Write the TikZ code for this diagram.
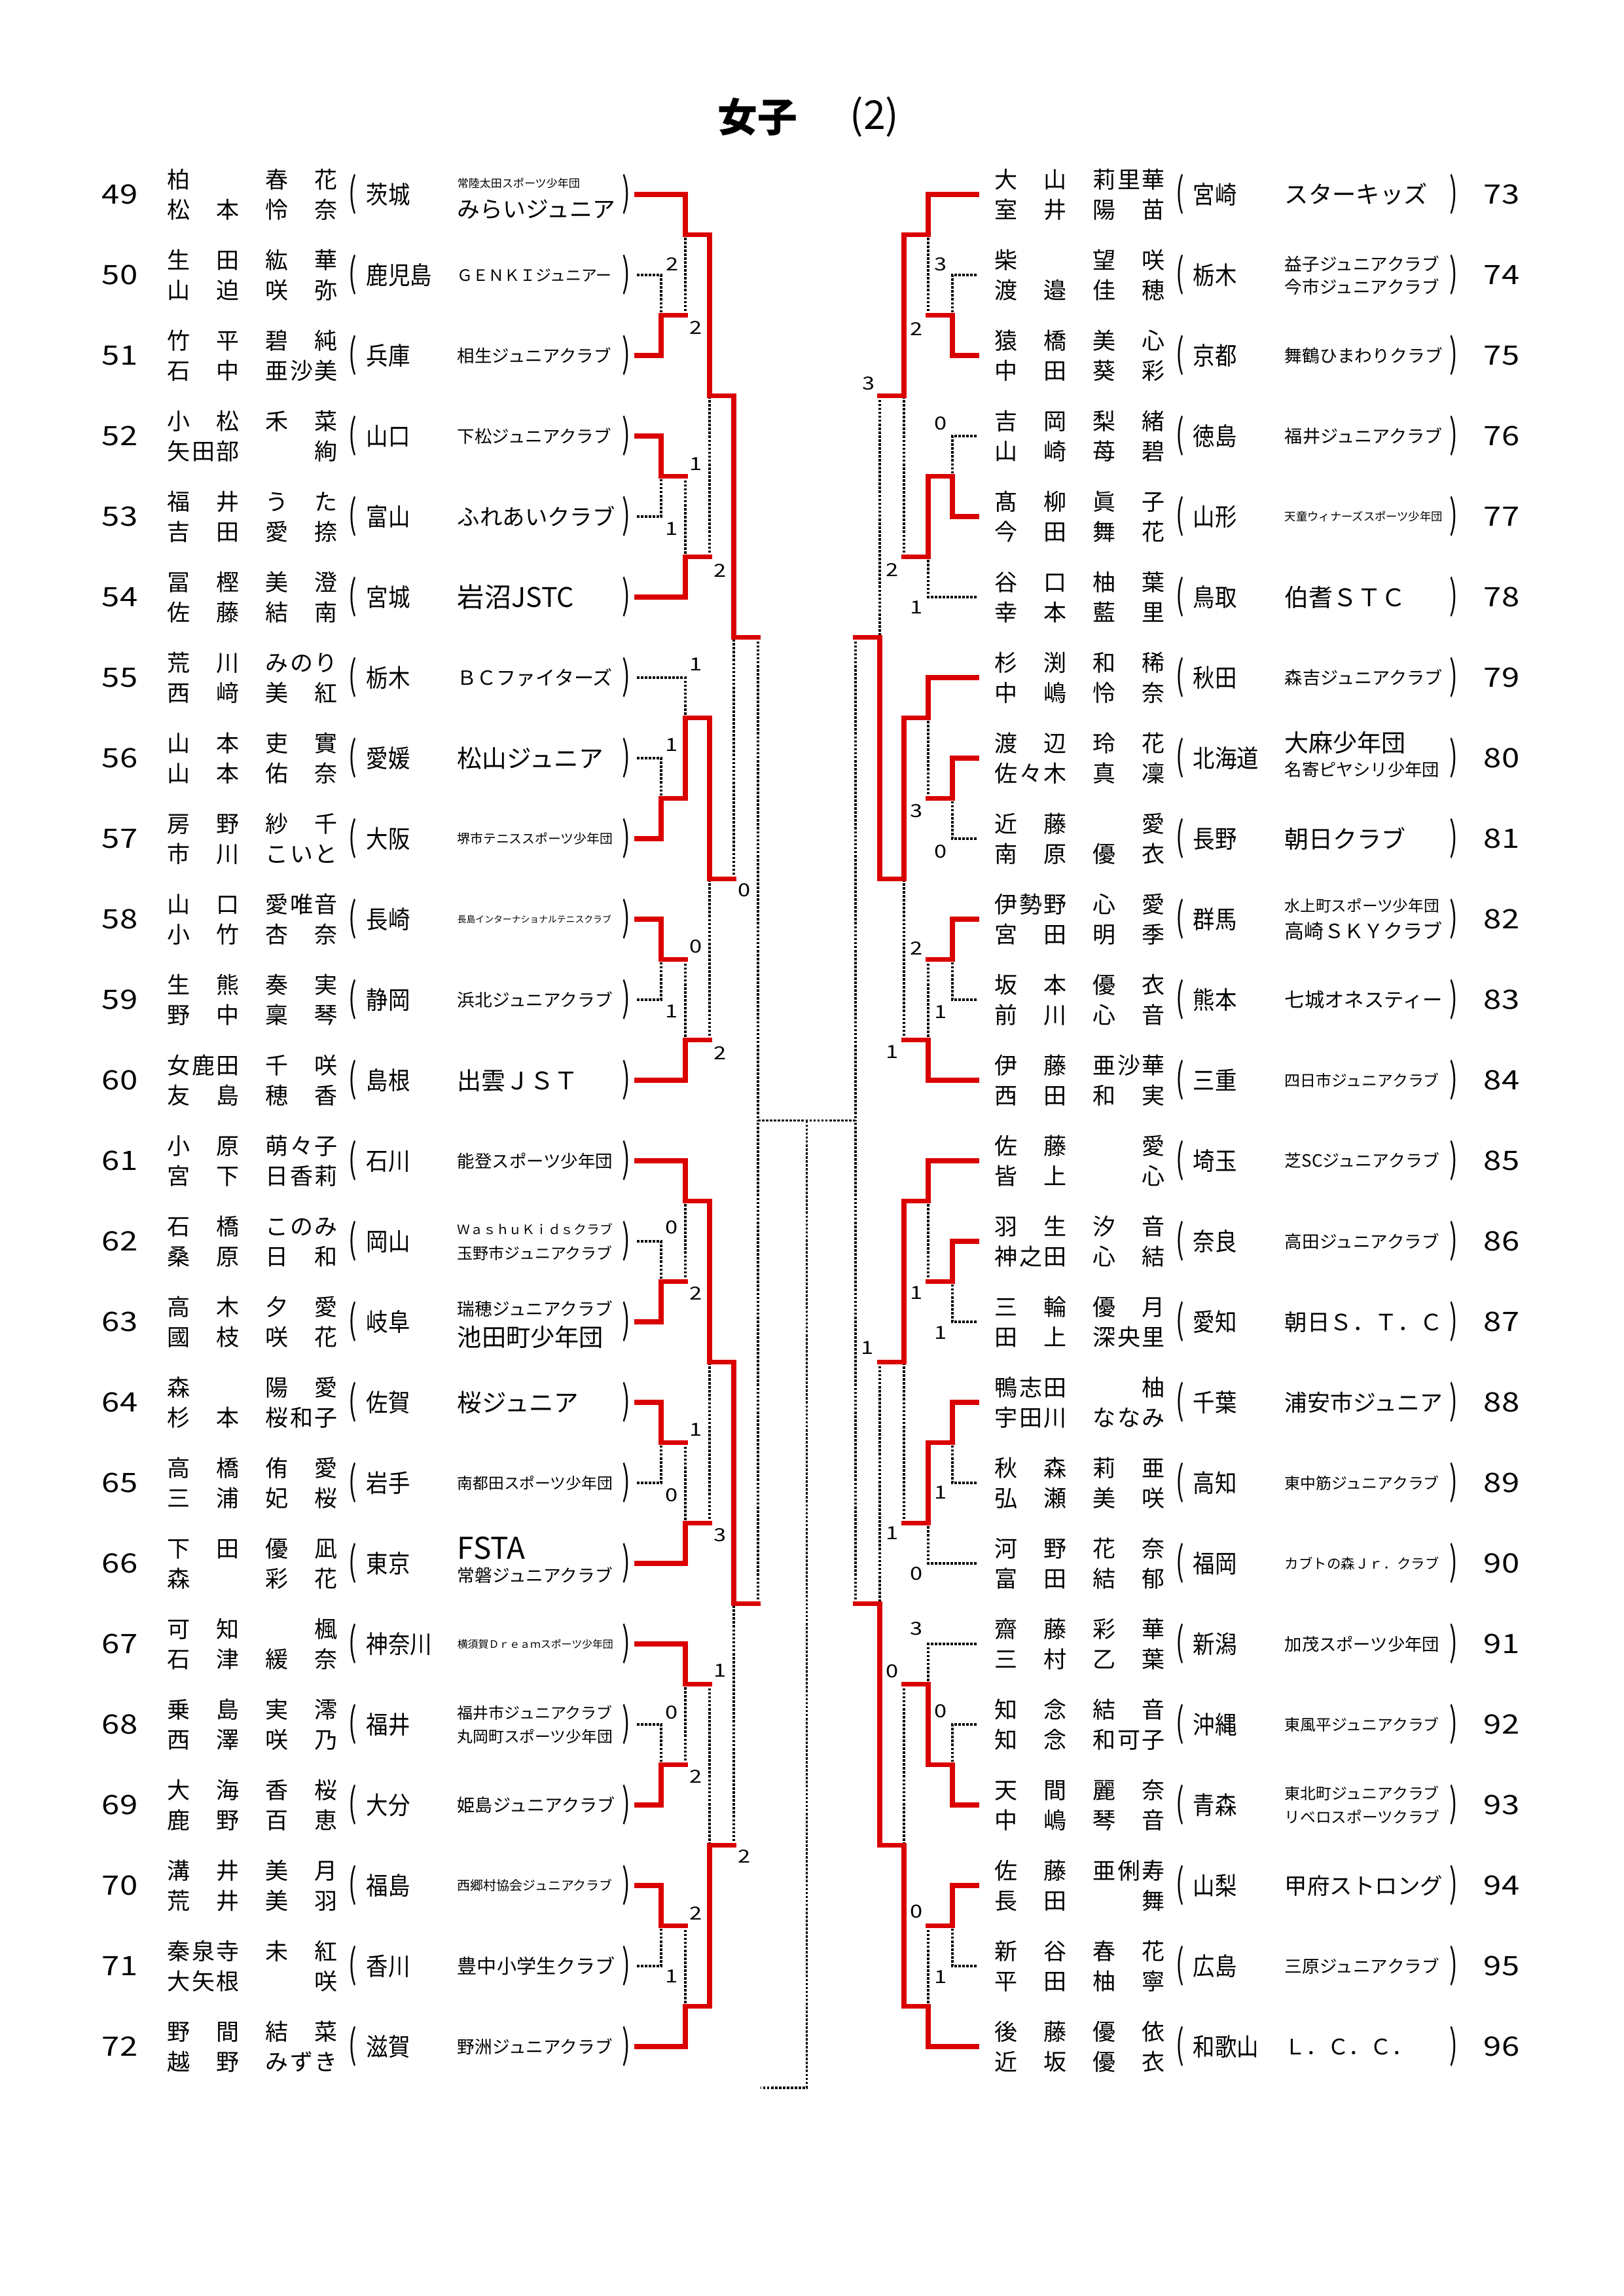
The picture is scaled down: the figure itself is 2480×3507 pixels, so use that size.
\documentclass[tikz,border=0pt]{standalone}
\usepackage{fontspec}
\usepackage{graphicx}
\setmainfont{Noto Sans CJK JP}
\definecolor{bred}{RGB}{218,0,0}
\newlength\pxu \setlength\pxu{0.24pt}
\newcommand\jstrut{\rule[-0.12em]{0pt}{1em}}
\def\spreadA#1{#1\spreadB}
\def\spreadB#1{\ifx#1\relax\else\hfill#1\expandafter\spreadB\fi}
\newcommand\spreadchars[1]{\spreadA#1\relax}
\def\setleft{\def\numx{183}\def\famx{255}\def\givx{405}\def\opx{539}\def\prefx{559}\def\clubx{698}\def\cpx{957}}
\def\setright{\def\numx{2294}\def\famx{1519}\def\givx{1669}\def\opx{1803}\def\prefx{1822}\def\clubx{1962}\def\cpx{2221}}
\newcommand\prow[8]{%
  \def\cid{#1}\def\cy{#2}%
  \node[numn] (n#1) at (\numx,#2) {\scalebox{1.2}[1]{#1}};
  \node[namen] (fa#1) at (\famx,#2-23) {\makebox[110\pxu][s]{\jstrut\spreadchars{#3}}};
  \node[namen] (ga#1) at (\givx,#2-23) {\makebox[110\pxu][s]{\jstrut\spreadchars{#4}}};
  \node[namen] (fb#1) at (\famx,#2+23) {\makebox[110\pxu][s]{\jstrut\spreadchars{#5}}};
  \node[namen] (gb#1) at (\givx,#2+23) {\makebox[110\pxu][s]{\jstrut\spreadchars{#6}}};
  \node[parn] (po#1) at (\opx,#2) {\scalebox{0.9}[1.45]{(}};
  \node[prefn] (p#1) at (\prefx,#2) {\scalebox{0.88}[1]{\jstrut #7}};
  #8
  \node[parn] (pc#1) at (\cpx,#2) {\scalebox{0.9}[1.45]{)}};
}
\newcommand\cone[2]{\node[clubn] (c\cid) at (\clubx,\cy) {\resizebox{#1\pxu}{!}{\jstrut #2}};}
\newcommand\ctwo[6]{\node[clubn] (ct\cid) at (\clubx,\cy-#2) {\resizebox{#1\pxu}{!}{\jstrut #3}};
  \node[clubn] (cb\cid) at (\clubx,\cy+#5) {\resizebox{#4\pxu}{!}{\jstrut #6}};}
\newcommand\lossR[2]{\draw[lose] (#1) -| (#2);}
\newcommand\lossJ[2]{\draw[lose] (#1 -| #2) -- (#2);}
\newcommand\winL[2]{\draw[win] (#1) -| (#2);}
\newcommand\winH[2]{\draw[win] (#1) -- (#1 -| #2);}
\newcommand\scl[4]{\node[scn] (#1) at (#2,#3) {\scalebox{1.25}[1]{#4}};}
\tikzset{
 win/.style={draw=bred, line width=1.7pt, line cap=rect, line join=miter},
 lose/.style={draw=black, line width=0.82pt, dash pattern=on 0.9pt off 0.55pt},
 numn/.style={inner sep=0, font=\fontsize{9.8}{11}\selectfont},
 namen/.style={anchor=west, inner sep=0, font=\fontsize{8.4}{10}\selectfont},
 prefn/.style={anchor=west, inner sep=0, font=\fontsize{9.1}{11}\selectfont},
 parn/.style={inner sep=0, font=\fontsize{10}{12}\selectfont},
 clubn/.style={anchor=west, inner sep=0, font=\fontsize{10}{12}\selectfont},
 scn/.style={inner sep=0, font=\fontsize{6.6}{8}\selectfont},
 titn/.style={inner sep=0, font=\fontsize{14.6}{17}\selectfont},
}
\begin{document}
\begin{tikzpicture}[x=0.24pt,y=-0.24pt]
\useasboundingbox (0,0) rectangle (2480,3507);
% title
\node[titn] (t1) at (1157,179) {\bfseries 女子};
\node[titn] (t2) at (1336,179) {(2)};
% left rows
\setleft
\prow{49}{297}{柏}{春花}{松本}{怜奈}{茨城}{\ctwo{187}{17}{常陸太田スポーツ少年団}{241}{22}{みらいジュニア}}
\prow{50}{420}{生田}{紘華}{山迫}{咲弥}{鹿児島}{\cone{236}{ＧＥＮＫＩジュニアー}}
\prow{51}{543}{竹平}{碧純}{石中}{亜沙美}{兵庫}{\cone{235}{相生ジュニアクラブ}}
\prow{52}{666}{小松}{禾菜}{矢田部}{\hfill 絢}{山口}{\cone{235}{下松ジュニアクラブ}}
\prow{53}{789}{福井}{うた}{吉田}{愛捺}{富山}{\cone{241}{ふれあいクラブ}}
\prow{54}{912}{冨樫}{美澄}{佐藤}{結南}{宮城}{\cone{178}{岩沼JSTC}}
\prow{55}{1035}{荒川}{みのり}{西﨑}{美紅}{栃木}{\cone{237}{ＢＣファイターズ}}
\prow{56}{1158}{山本}{吏實}{山本}{佑奈}{愛媛}{\cone{223}{松山ジュニア}}
\prow{57}{1281}{房野}{紗千}{市川}{こいと}{大阪}{\cone{237}{堺市テニススポーツ少年団}}
\prow{58}{1404}{山口}{愛唯音}{小竹}{杏奈}{長崎}{\cone{235}{長島インターナショナルテニスクラブ}}
\prow{59}{1527}{生熊}{奏実}{野中}{稟琴}{静岡}{\cone{237}{浜北ジュニアクラブ}}
\prow{60}{1650}{女鹿田}{千咲}{友島}{穂香}{島根}{\cone{185}{出雲ＪＳＴ}}
\prow{61}{1773}{小原}{萌々子}{宮下}{日香莉}{石川}{\cone{237}{能登スポーツ少年団}}
\prow{62}{1896}{石橋}{このみ}{桑原}{日和}{岡山}{\ctwo{237}{18}{ＷａｓｈｕＫｉｄｓクラブ}{237}{18}{玉野市ジュニアクラブ}}
\prow{63}{2019}{高木}{夕愛}{國枝}{咲花}{岐阜}{\ctwo{237}{20}{瑞穂ジュニアクラブ}{223}{23}{池田町少年団}}
\prow{64}{2142}{森}{陽愛}{杉本}{桜和子}{佐賀}{\cone{185}{桜ジュニア}}
\prow{65}{2265}{高橋}{侑愛}{三浦}{妃桜}{岩手}{\cone{237}{南都田スポーツ少年団}}
\prow{66}{2388}{下田}{優凪}{森}{彩花}{東京}{\ctwo{104}{24}{FSTA}{237}{18}{常磐ジュニアクラブ}}
\prow{67}{2511}{可知}{\hfill 楓}{石津}{緩奈}{神奈川}{\cone{238}{横須賀Ｄｒｅａｍスポーツ少年団}}
\prow{68}{2634}{乗島}{実澪}{西澤}{咲乃}{福井}{\ctwo{237}{18}{福井市ジュニアクラブ}{237}{18}{丸岡町スポーツ少年団}}
\prow{69}{2757}{大海}{香桜}{鹿野}{百恵}{大分}{\cone{241}{姫島ジュニアクラブ}}
\prow{70}{2880}{溝井}{美月}{荒井}{美羽}{福島}{\cone{237}{西郷村協会ジュニアクラブ}}
\prow{71}{3003}{秦泉寺}{未紅}{大矢根}{\hfill 咲}{香川}{\cone{241}{豊中小学生クラブ}}
\prow{72}{3126}{野間}{結菜}{越野}{みずき}{滋賀}{\cone{237}{野洲ジュニアクラブ}}
% right rows
\setright
\prow{73}{297}{大山}{莉里華}{室井}{陽苗}{宮崎}{\cone{218}{スターキッズ}}
\prow{74}{420}{柴}{望咲}{渡邉}{佳穂}{栃木}{\ctwo{236}{17}{益子ジュニアクラブ}{236}{18}{今市ジュニアクラブ}}
\prow{75}{543}{猿橋}{美心}{中田}{葵彩}{京都}{\cone{241}{舞鶴ひまわりクラブ}}
\prow{76}{666}{吉岡}{梨緒}{山崎}{苺碧}{徳島}{\cone{241}{福井ジュニアクラブ}}
\prow{77}{789}{髙柳}{眞子}{今田}{舞花}{山形}{\cone{241}{天童ウィナーズスポーツ少年団}}
\prow{78}{912}{谷口}{柚葉}{幸本}{藍里}{鳥取}{\cone{185}{伯耆ＳＴＣ}}
\prow{79}{1035}{杉渕}{和稀}{中嶋}{怜奈}{秋田}{\cone{241}{森吉ジュニアクラブ}}
\prow{80}{1158}{渡辺}{玲花}{佐々木}{真凜}{北海道}{\ctwo{185}{24}{大麻少年団}{236}{18}{名寄ピヤシリ少年団}}
\prow{81}{1281}{近藤}{\hfill 愛}{南原}{優衣}{長野}{\cone{185}{朝日クラブ}}
\prow{82}{1404}{伊勢野}{心愛}{宮田}{明季}{群馬}{\ctwo{236}{20}{水上町スポーツ少年団}{241}{18}{高崎ＳＫＹクラブ}}
\prow{83}{1527}{坂本}{優衣}{前川}{心音}{熊本}{\cone{241}{七城オネスティー}}
\prow{84}{1650}{伊藤}{亜沙華}{西田}{和実}{三重}{\cone{236}{四日市ジュニアクラブ}}
\prow{85}{1773}{佐藤}{\hfill 愛}{皆上}{\hfill 心}{埼玉}{\cone{236}{芝SCジュニアクラブ}}
\prow{86}{1896}{羽生}{汐音}{神之田}{心結}{奈良}{\cone{236}{高田ジュニアクラブ}}
\prow{87}{2019}{三輪}{優月}{田上}{深央里}{愛知}{\cone{241}{朝日Ｓ．Ｔ．Ｃ}}
\prow{88}{2142}{鴨志田}{\hfill 柚}{宇田川}{ななみ}{千葉}{\cone{241}{浦安市ジュニア}}
\prow{89}{2265}{秋森}{莉亜}{弘瀬}{美咲}{高知}{\cone{236}{東中筋ジュニアクラブ}}
\prow{90}{2388}{河野}{花奈}{富田}{結郁}{福岡}{\cone{236}{カブトの森Ｊｒ．クラブ}}
\prow{91}{2511}{齋藤}{彩華}{三村}{乙葉}{新潟}{\cone{236}{加茂スポーツ少年団}}
\prow{92}{2634}{知念}{結音}{知念}{和可子}{沖縄}{\cone{236}{東風平ジュニアクラブ}}
\prow{93}{2757}{天間}{麗奈}{中嶋}{琴音}{青森}{\ctwo{236}{18}{東北町ジュニアクラブ}{236}{18}{リベロスポーツクラブ}}
\prow{94}{2880}{佐藤}{亜俐寿}{長田}{\hfill 舞}{山梨}{\cone{241}{甲府ストロング}}
\prow{95}{3003}{新谷}{春花}{平田}{柚寧}{広島}{\cone{236}{三原ジュニアクラブ}}
\prow{96}{3126}{後藤}{優依}{近坂}{優衣}{和歌山}{\cone{196}{Ｌ．Ｃ．Ｃ．}}
% row end coordinates
\foreach \k [count=\i from 0] in {49,...,72} {\coordinate (L\k) at (973,297+123*\i);}
\foreach \k [count=\i from 0] in {73,...,96} {\coordinate (R\k) at (1492,297+123*\i);}
% junctions
\foreach \s/\xa/\xb/\xc/\xd/\xf in {L/1010/1047/1084/1121/1158, R/1455/1418/1381/1344/1307} {
  \coordinate (\s a0) at (\xa,481.5);  \coordinate (\s b0) at (\xb,358.5);
  \coordinate (\s a1) at (\xa,727.5);  \coordinate (\s b1) at (\xb,850.5);
  \coordinate (\s a2) at (\xa,1219.5); \coordinate (\s b2) at (\xb,1096.5);
  \coordinate (\s a3) at (\xa,1465.5); \coordinate (\s b3) at (\xb,1588.5);
  \coordinate (\s a4) at (\xa,1957.5); \coordinate (\s b4) at (\xb,1834.5);
  \coordinate (\s a5) at (\xa,2203.5); \coordinate (\s b5) at (\xb,2326.5);
  \coordinate (\s a6) at (\xa,2695.5); \coordinate (\s b6) at (\xb,2572.5);
  \coordinate (\s a7) at (\xa,2941.5); \coordinate (\s b7) at (\xb,3064.5);
  \coordinate (\s c0) at (\xc,604.5);  \coordinate (\s c1) at (\xc,1342.5);
  \coordinate (\s c2) at (\xc,2080.5); \coordinate (\s c3) at (\xc,2818.5);
  \coordinate (\s d0) at (\xd,973.5);  \coordinate (\s d1) at (\xd,2449.5);
  \coordinate (\s f) at (\xf,1711.5);
}
\coordinate (C0) at (1232.5,1711.5);
\coordinate (C1) at (1232.5,3189);
\coordinate (C2) at (1162,3189);
% ---- dotted (lost / undecided) ----
\lossR{L50}{La0} \lossJ{La0}{Lb0}
\lossR{L53}{La1} \lossJ{La1}{Lb1}
\lossR{L56}{La2} \lossR{L55}{Lb2}
\lossR{L59}{La3} \lossJ{La3}{Lb3}
\lossR{L62}{La4} \lossJ{La4}{Lb4}
\lossR{L65}{La5} \lossJ{La5}{Lb5}
\lossR{L68}{La6} \lossJ{La6}{Lb6}
\lossR{L71}{La7} \lossJ{La7}{Lb7}
\lossJ{Lb1}{Lc0} \lossJ{Lb3}{Lc1} \lossJ{Lb5}{Lc2} \lossJ{Lb6}{Lc3}
\lossJ{Lc1}{Ld0} \lossJ{Lc3}{Ld1}
\lossJ{Ld0}{Lf} \lossJ{Ld1}{Lf}
\lossR{R74}{Ra0} \lossJ{Ra0}{Rb0}
\lossR{R76}{Ra1} \lossR{R78}{Rb1}
\lossR{R81}{Ra2} \lossJ{Ra2}{Rb2}
\lossR{R83}{Ra3} \lossJ{Ra3}{Rb3}
\lossR{R87}{Ra4} \lossJ{Ra4}{Rb4}
\lossR{R89}{Ra5} \lossR{R90}{Rb5}
\lossR{R92}{Ra6} \lossR{R91}{Rb6}
\lossR{R95}{Ra7} \lossJ{Ra7}{Rb7}
\lossJ{Rb1}{Rc0} \lossJ{Rb3}{Rc1} \lossJ{Rb5}{Rc2} \lossJ{Rb6}{Rc3}
\lossJ{Rc0}{Rd0} \lossJ{Rc2}{Rd1}
\lossJ{Rd0}{Rf} \lossJ{Rd1}{Rf}
\draw[lose] (Lf) -- (C0) -- (Rf);
\draw[lose] (C0) -- (C1) -- (C2);
% ---- red (won) ----
\winL{L51}{La0} \winL{L49}{Lb0} \winH{La0}{Lb0}
\winL{L52}{La1} \winH{La1}{Lb1} \winL{L54}{Lb1}
\winL{L57}{La2} \winL{La2}{Lb2}
\winL{L58}{La3} \winH{La3}{Lb3} \winL{L60}{Lb3}
\winL{L63}{La4} \winL{L61}{Lb4} \winH{La4}{Lb4}
\winL{L64}{La5} \winH{La5}{Lb5} \winL{L66}{Lb5}
\winL{L69}{La6} \winL{L67}{Lb6} \winH{La6}{Lb6}
\winL{L70}{La7} \winH{La7}{Lb7} \winL{L72}{Lb7}
\winL{Lb0}{Lc0} \winH{Lb1}{Lc0}
\winL{Lb2}{Lc1} \winH{Lb3}{Lc1}
\winL{Lb4}{Lc2} \winH{Lb5}{Lc2}
\winH{Lb6}{Lc3} \winL{Lb7}{Lc3}
\winL{Lc0}{Ld0} \winH{Lc1}{Ld0}
\winL{Lc2}{Ld1} \winH{Lc3}{Ld1}
\winH{Ld0}{Lf} \winH{Ld1}{Lf}
\winL{R75}{Ra0} \winL{R73}{Rb0} \winH{Ra0}{Rb0}
\winL{R77}{Ra1} \winL{Ra1}{Rb1}
\winL{R80}{Ra2} \winL{R79}{Rb2} \winH{Ra2}{Rb2}
\winL{R82}{Ra3} \winH{Ra3}{Rb3} \winL{R84}{Rb3}
\winL{R86}{Ra4} \winL{R85}{Rb4} \winH{Ra4}{Rb4}
\winL{R88}{Ra5} \winL{Ra5}{Rb5}
\winL{R93}{Ra6} \winL{Ra6}{Rb6}
\winL{R94}{Ra7} \winH{Ra7}{Rb7} \winL{R96}{Rb7}
\winL{Rb0}{Rc0} \winH{Rb1}{Rc0}
\winL{Rb2}{Rc1} \winH{Rb3}{Rc1}
\winL{Rb4}{Rc2} \winH{Rb5}{Rc2}
\winH{Rb6}{Rc3} \winL{Rb7}{Rc3}
\winH{Rc0}{Rd0} \winL{Rc1}{Rd0}
\winH{Rc2}{Rd1} \winL{Rc3}{Rd1}
\winH{Rd0}{Rf} \winH{Rd1}{Rf}
% ---- scores ----
\scl{s1}{1027}{404}{2} \scl{s2}{1063}{501}{2} \scl{s3}{1063}{709}{1} \scl{s4}{1026}{808}{1} \scl{s5}{1100}{872}{2}
\scl{s6}{1063}{1015}{1} \scl{s7}{1026}{1138}{1} \scl{s8}{1137}{1360}{0} \scl{s9}{1063}{1446}{0} \scl{s10}{1026}{1545}{1} \scl{s11}{1100}{1609}{2}
\scl{s12}{1026}{1875}{0} \scl{s13}{1063}{1976}{2} \scl{s14}{1063}{2184}{1} \scl{s15}{1026}{2284}{0} \scl{s16}{1100}{2345}{3}
\scl{s17}{1100}{2552}{1} \scl{s18}{1026}{2616}{0} \scl{s19}{1063}{2713}{2} \scl{s20}{1137}{2835}{2} \scl{s21}{1063}{2922}{2} \scl{s22}{1026}{3019}{1}
\scl{s23}{1437}{404}{3} \scl{s24}{1400}{503}{2} \scl{s25}{1327}{586}{3} \scl{s26}{1437}{647}{0} \scl{s27}{1363}{871}{2} \scl{s28}{1400}{928}{1}
\scl{s29}{1400}{1239}{3} \scl{s30}{1437}{1301}{0} \scl{s31}{1400}{1449}{2} \scl{s32}{1437}{1546}{1} \scl{s33}{1363}{1607}{1}
\scl{s34}{1325}{2059}{1} \scl{s35}{1400}{1975}{1} \scl{s36}{1437}{2036}{1} \scl{s37}{1363}{2342}{1} \scl{s38}{1437}{2280}{1} \scl{s39}{1400}{2404}{0}
\scl{s40}{1400}{2488}{3} \scl{s41}{1363}{2553}{0} \scl{s42}{1437}{2614}{0} \scl{s43}{1400}{2920}{0} \scl{s44}{1437}{3020}{1}
\end{tikzpicture}
\end{document}
